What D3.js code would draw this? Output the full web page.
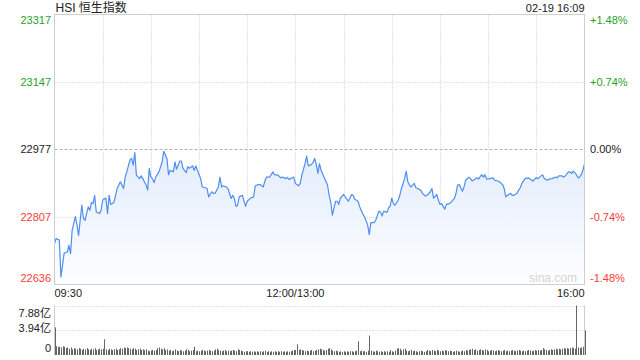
<!DOCTYPE html>
<html>
<head>
<meta charset="utf-8">
<script src="https://cdn.jsdelivr.net/npm/d3@7"></script>
<style>
  body { margin: 0; background: #fff; }
  svg { display: block; font-family: "Liberation Sans", Arial, "Noto Sans CJK SC", sans-serif; }
</style>
</head>
<body>
<svg width="640" height="360"></svg>
<script>
var title = "HSI 恒生指数";
var stamp = "02-19 16:09";
var prevClose = 22977;
var priceTicks = [22636, 22807, 22977, 23147, 23317];
var pctTicks = ["-1.48%", "-0.74%", "0.00%", "+0.74%", "+1.48%"];
var timeLabels = [[0, "09:30"], [150, "12:00/13:00"], [330, "16:00"]];
var volTicks = [[0, "0"], [3.94, "3.94亿"], [7.88, "7.88亿"]];

// trading minute since 09:30 (lunch break removed)
var minutes = [0,1,3,4,5,6,8,9,10,11,13,14,15,17,18,19,21,22,23,24,25,26,28,29,30,32,33,34,35,37,39,41,43,44,45,47,48,49,50,51,53,54,55,57,58,59,60,61,62,63,65,67,68,70,71,72,74,75,76,78,79,80,82,
  83,84,86,87,88,89,91,92,94,95,96,98,99,100,102,103,104,105,107,108,110,111,112,113,114,115,117,118,119,120,122,124,125,127,128,130,131,132,134,136,137,139,141,142,144,145,146,147,149,150,152,153,154,156,157,158,160,161,162,163,164,165,
  166,168,170,171,172,173,175,176,177,178,180,181,183,185,186,187,189,190,192,193,195,196,197,199,200,202,203,204,205,207,208,209,210,211,212,214,215,216,218,219,220,221,222,224,225,226,228,229,231,232,234,235,236,238,239,240,241,243,244,246,247,
  249,250,251,252,254,255,256,258,259,260,262,263,264,266,267,268,269,271,273,274,276,277,279,280,281,282,284,285,286,288,289,290,291,293,295,296,298,299,300,301,303,304,305,307,308,310,312,313,314,316,317,318,320,321,322,323,325,326,327,328,329,330];
var prices = [22739,22752,22748,22655,22685,22715,22718,22735,22714,22773,22807,22786,22760,22836,22803,22798,22832,22823,22843,22840,22861,22819,22815,22823,22849,22854,22815,22861,22838,22843,22878,22895,22878,22907,22920,22950,22954,22937,22969,22912,22903,22910,22903,22887,22874,22929,22907,22903,22893,22907,22920,22945,22972,22954,22913,22924,22920,22945,22927,22947,22947,22929,22918,
  22933,22929,22935,22924,22935,22924,22903,22882,22880,22878,22857,22870,22866,22866,22882,22907,22882,22885,22882,22878,22853,22861,22853,22833,22836,22857,22861,22846,22833,22846,22854,22857,22885,22888,22888,22882,22897,22907,22907,22920,22913,22912,22905,22907,22903,22906,22901,22903,22907,22891,22885,22891,22912,22941,22960,22935,22939,22944,22954,22939,22916,22941,
  22924,22905,22887,22861,22844,22811,22846,22846,22838,22854,22863,22857,22846,22863,22861,22851,22846,22832,22813,22807,22786,22762,22792,22792,22798,22821,22819,22809,22821,22818,22829,22834,22854,22840,22836,22849,22861,22878,22903,22922,22895,22887,22882,22891,22880,22878,22874,22866,22859,22861,22870,22878,22854,22863,22849,22838,22840,22826,22838,22840,22844,
  22853,22866,22887,22888,22871,22882,22899,22907,22903,22897,22902,22905,22902,22913,22907,22913,22902,22903,22905,22899,22897,22895,22888,22878,22857,22861,22866,22861,22861,22866,22874,22880,22891,22903,22905,22902,22897,22902,22905,22903,22910,22912,22903,22899,22902,22903,22907,22905,22910,22910,22907,22910,22920,22920,22916,22922,22913,22905,22907,22913,22924,22941];

// turnover per minute, 亿
var volumes = [
  4.4,1.4,1.3,1.3,1.2,1.4,1.3,1.1,1.2,1.0,1.2,0.9,1.1,1.0,0.9,1.1,1.0,0.8,1.0,0.9,1.1,0.9,0.8,1.0,0.9,1.1,0.8,0.9,1.0,0.9,
  1.0,2.5,0.9,0.8,1.0,0.9,0.8,0.9,1.0,0.8,0.9,1.1,1.0,1.2,1.1,1.2,1.1,1.0,0.9,1.1,1.0,0.8,0.9,1.0,0.8,0.9,0.8,0.9,0.7,0.6,
  0.7,0.8,0.7,0.8,1.1,1.2,1.0,0.9,1.1,0.8,0.9,0.7,0.8,0.6,0.7,0.9,0.7,0.6,0.8,0.7,0.6,0.7,0.9,0.8,0.6,0.7,0.8,1.3,0.6,0.7,
  0.6,0.7,0.8,0.7,0.6,0.7,0.8,0.7,0.6,0.7,0.9,1.0,0.8,0.7,0.6,0.7,0.8,0.6,0.7,0.6,0.7,0.8,0.7,0.6,0.9,0.8,0.7,0.6,0.5,0.6,
  0.6,0.5,0.6,0.5,0.6,0.5,0.6,0.5,0.6,0.5,0.6,0.7,0.5,0.6,0.5,0.6,0.5,0.6,0.5,0.6,0.5,0.6,0.5,0.6,0.5,0.6,0.5,0.6,0.7,0.8,
  0.8,1.7,0.8,0.9,0.8,0.7,0.6,0.7,0.6,0.7,0.8,0.6,0.7,0.8,0.9,1.0,0.9,0.8,0.7,0.8,1.0,1.1,0.9,0.7,0.6,0.7,0.6,0.5,0.6,0.5,
  0.6,0.5,0.6,0.5,0.6,0.6,0.5,0.6,0.7,2.2,0.6,0.7,0.6,0.6,0.5,0.7,3.1,0.7,0.6,0.5,0.7,0.6,0.5,0.6,0.5,0.6,0.5,0.6,0.5,0.8,
  0.6,0.5,0.7,1.0,1.1,1.0,0.7,0.9,1.0,0.7,0.6,0.7,0.8,0.6,0.7,0.6,0.5,0.6,0.7,0.6,0.5,0.6,0.8,0.7,0.6,0.8,0.7,0.6,0.8,0.7,
  0.6,0.7,0.6,0.8,0.7,0.6,0.7,0.6,0.5,0.6,0.7,0.6,0.5,0.6,0.7,0.6,0.8,0.7,0.8,0.9,1.0,0.8,0.9,0.7,0.8,0.9,0.8,0.7,0.9,0.8,
  0.6,0.7,0.8,0.7,0.6,0.7,0.8,0.7,0.6,0.7,0.8,0.6,0.7,0.6,0.7,0.8,0.7,0.6,0.7,0.8,0.7,0.6,0.7,0.6,0.7,0.8,0.7,0.6,0.7,0.8,
  0.7,0.8,0.7,0.8,1.1,0.9,0.8,0.7,0.8,0.9,0.8,0.9,1.0,0.9,1.0,0.9,1.0,1.1,1.0,1.1,1.0,1.1,1.2,1.1,1.0,7.88,1.2,1.1,1.2,1.3,
  3.94];

function render() {
  var svg = d3.select("svg");
  var left = 54.5, right = 584.5, top = 14.5, bottom = 284.5;
  var vTop = 305.5, vBottom = 355;

  var x = d3.scaleLinear().domain([0, 330]).range([left, right]);
  var y = d3.scaleLinear().domain([22636, 23317]).range([bottom, top]);
  var yv = d3.scaleLinear().domain([0, 7.88]).range([vBottom, vTop]);

  var green = "#1fa31f", red = "#f23d3d", grid = "#c8c8c8";

  // gradient for area
  var defs = svg.append("defs");
  var grad = defs.append("linearGradient").attr("id", "fillGrad")
      .attr("gradientUnits", "userSpaceOnUse")
      .attr("x1", 0).attr("y1", y(22960)).attr("x2", 0).attr("y2", bottom);
  grad.append("stop").attr("offset", "0%").attr("stop-color", "#e4edfc");
  grad.append("stop").attr("offset", "100%").attr("stop-color", "#fdfeff");

  // grid lines
  var g = svg.append("g");
  g.selectAll(".hg").data([22807, 23147]).enter().append("line")
      .attr("x1", left).attr("x2", right)
      .attr("y1", function(d) { return Math.round(y(d)) + 0.5; })
      .attr("y2", function(d) { return Math.round(y(d)) + 0.5; })
      .attr("stroke", grid).attr("stroke-dasharray", "1,2");
  g.append("line")
      .attr("x1", left).attr("x2", right)
      .attr("y1", Math.round(y(prevClose)) + 0.5).attr("y2", Math.round(y(prevClose)) + 0.5)
      .attr("stroke", "#b0b0b0").attr("stroke-dasharray", "3,2");
  g.selectAll(".vg").data(d3.range(30, 330, 30)).enter().append("line")
      .attr("x1", function(d) { return Math.round(x(d)) + 0.5; })
      .attr("x2", function(d) { return Math.round(x(d)) + 0.5; })
      .attr("y1", top).attr("y2", bottom)
      .attr("stroke", grid).attr("stroke-dasharray", "1,2");

  // area + line
  var pts = minutes.map(function(m, i) { return [m, prices[i]]; });
  var area = d3.area().x(function(d) { return x(d[0]); }).y0(bottom).y1(function(d) { return y(d[1]); });
  var line = d3.line().x(function(d) { return x(d[0]); }).y(function(d) { return y(d[1]); });
  svg.append("path").datum(pts).attr("d", area).attr("fill", "url(#fillGrad)");
  svg.append("path").datum(pts).attr("d", line)
      .attr("fill", "none").attr("stroke", "#4f8ef0").attr("stroke-width", 1.2)
      .attr("stroke-linejoin", "round");

  // frame
  svg.append("rect").attr("x", left).attr("y", top)
      .attr("width", right - left).attr("height", bottom - top)
      .attr("fill", "none").attr("stroke", "#cfcfcf");

  svg.append("text").attr("x", 553).attr("y", 282).attr("text-anchor", "middle")
      .attr("font-size", 12).attr("fill", "#d4d4d4").text("sina.com");

  // y labels
  function labelY(d, i) {
    if (i == 0) return y(d) - 3;
    if (i == priceTicks.length - 1) return y(d) + 9;
    return y(d) + 4;
  }
  function colorFor(d) { return d > prevClose ? green : (d < prevClose ? red : "#222"); }
  svg.selectAll(".pl").data(priceTicks).enter().append("text")
      .attr("x", 51).attr("y", labelY).attr("text-anchor", "end")
      .attr("font-size", 11).attr("fill", colorFor).text(function(d) { return d; });
  svg.selectAll(".pr").data(priceTicks).enter().append("text")
      .attr("x", 590).attr("y", labelY)
      .attr("font-size", 11).attr("fill", colorFor).text(function(d, i) { return pctTicks[i]; });

  // x labels
  svg.selectAll(".tl").data(timeLabels).enter().append("text")
      .attr("x", function(d, i) { return i == 0 ? left : (i == 2 ? right : x(d[0])); })
      .attr("y", 297)
      .attr("text-anchor", function(d, i) { return i == 0 ? "start" : (i == 2 ? "end" : "middle"); })
      .attr("font-size", 11).attr("fill", "#222").text(function(d) { return d[1]; });

  svg.append("text").attr("x", left + 1).attr("y", 12).attr("font-size", 12).attr("fill", "#222").text(title);
  svg.append("text").attr("x", right).attr("y", 12).attr("text-anchor", "end")
      .attr("font-size", 11).attr("fill", "#222").text(stamp);

  // volume panel
  svg.selectAll(".vgl").data([7.88, 3.94]).enter().append("line")
      .attr("x1", left).attr("x2", right)
      .attr("y1", function(d) { return Math.round(yv(d)) + 0.5; })
      .attr("y2", function(d) { return Math.round(yv(d)) + 0.5; })
      .attr("stroke", grid).attr("stroke-dasharray", "1,2");
  svg.selectAll(".vb").data([left, right]).enter().append("line")
      .attr("x1", function(d) { return d; }).attr("x2", function(d) { return d; })
      .attr("y1", vTop).attr("y2", vBottom).attr("stroke", "#cfcfcf");
  svg.selectAll(".bar").data(volumes).enter().append("line")
      .attr("x1", function(d, i) { return Math.round(x(i)) + 0.5; })
      .attr("x2", function(d, i) { return Math.round(x(i)) + 0.5; })
      .attr("y1", vBottom).attr("y2", function(d) { return yv(d); })
      .attr("stroke", "#666");
  svg.selectAll(".vl").data(volTicks).enter().append("text")
      .attr("x", 51).attr("y", function(d, i) { return [352, 332, 317][i]; })
      .attr("text-anchor", "end").attr("font-size", 11).attr("fill", "#222")
      .text(function(d) { return d[1]; });
}

render();
</script>
</body>
</html>
